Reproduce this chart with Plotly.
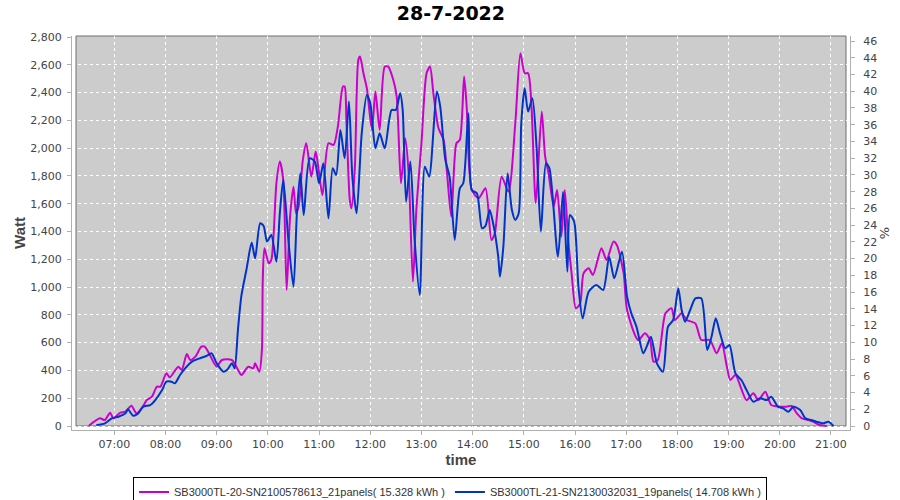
import plotly.graph_objects as go

DATE = "2022-07-28"

# Series 1 (magenta): SB3000TL-20
times_a = ["06:30","06:43","06:49","06:55","06:59","07:07","07:13","07:20","07:26","07:34",
           "07:38","07:44","07:50","07:54","08:01","08:05","08:15","08:19","08:25","08:29",
           "08:35","08:42","08:46","08:52","09:00","09:06","09:18","09:23","09:29","09:37",
           "09:43","09:45","09:50","09:53","09:54","09:56","10:01","10:04","10:10","10:14",
           "10:18","10:22","10:26","10:30","10:33","10:36","10:41","10:45","10:51","10:56",
           "10:59","11:04","11:11","11:17","11:22","11:28","11:30","11:32","11:36","11:38",
           "11:42","11:46","11:48","11:52","11:56","12:02","12:06","12:11","12:17","12:21",
           "12:27","12:31","12:36","12:41","12:45","12:50","12:54","13:00","13:06","13:10",
           "13:14","13:20","13:26","13:30","13:35","13:41","13:45","13:50","13:53","13:59",
           "14:07","14:15","14:22","14:26","14:34","14:42","14:50","14:56","15:01","15:05",
           "15:09","15:14","15:21","15:25","15:29","15:35","15:39","15:44","15:48","15:52",
           "15:56","16:01","16:06","16:10","16:16","16:21","16:31","16:37","16:45","16:49",
           "16:57","17:01","17:14","17:22","17:28","17:32","17:37","17:46","17:53","17:57",
           "18:05","18:11","18:21","18:28","18:38","18:46","18:52","18:58","19:02","19:08",
           "19:21","19:29","19:35","19:43","19:50","20:00","20:08","20:14","20:20","20:26",
           "20:33","20:39","20:47","20:55"]
watt_a = [0,55,43,96,55,96,103,146,91,146,
          187,211,283,283,379,350,427,403,518,475,
          499,571,571,511,427,475,475,427,367,427,
          415,451,391,547,1050,1279,1171,1195,1747,1903,
          1771,979,1507,1723,1531,1579,1915,2035,1795,1975,
          1867,1663,2035,2023,2155,2443,2443,2203,1627,1567,
          1867,2635,2659,2539,2431,2131,2407,2131,2587,2587,
          2491,2371,1747,2071,1819,1039,1555,2035,2539,2587,
          2395,2143,2059,1819,1507,2035,2059,2515,2299,1699,
          1640,1711,1339,1387,1795,1687,2179,2683,2539,2539,
          2299,1603,2263,1939,1819,1579,1699,1363,1699,1339,
          1099,847,883,1099,1135,1087,1279,1195,1327,1303,
          1099,835,619,667,619,463,475,811,847,763,
          811,763,739,619,619,523,595,427,331,367,
          187,235,187,247,151,139,139,144,91,55,
          43,31,7,0]

# Series 2 (blue): SB3000TL-21
times_b = ["06:39","06:49","06:57","07:05","07:13","07:16","07:22","07:28","07:34","07:42",
           "07:48","07:56","08:01","08:07","08:11","08:17","08:23","08:31","08:40","08:48",
           "08:54","09:00","09:08","09:12","09:18","09:21","09:25","09:29","09:35","09:41",
           "09:45","09:51","09:55","09:59","10:04","10:10","10:14","10:18","10:24","10:30",
           "10:34","10:38","10:42","10:49","10:55","11:00","11:05","11:11","11:16","11:20",
           "11:25","11:30","11:35","11:39","11:44","11:50","11:56","12:00","12:06","12:11",
           "12:17","12:25","12:30","12:35","12:38","12:42","12:47","12:52","12:58","13:04",
           "13:09","13:18","13:22","13:28","13:33","13:39","13:45","13:49","13:55","13:59",
           "14:05","14:11","14:15","14:20","14:24","14:30","14:32","14:36","14:41","14:46",
           "14:50","14:54","14:57","15:01","15:05","15:10","15:15","15:20","15:26","15:30",
           "15:40","15:46","15:51","15:54","15:59","16:04","16:09","16:16","16:25","16:33",
           "16:40","16:46","16:55","17:01","17:06","17:12","17:20","17:24","17:29","17:36",
           "17:43","17:49","17:55","18:01","18:05","18:09","18:15","18:21","18:28","18:35",
           "18:40","18:45","18:50","18:56","19:01","19:08","19:15","19:21","19:29","19:37",
           "19:45","19:50","19:58","20:04","20:10","20:16","20:24","20:30","20:37","20:43",
           "20:51","20:57","21:03"]
watt_b = [7,19,55,67,91,120,74,91,139,151,
          187,259,319,319,307,367,415,463,487,504,
          523,451,391,403,451,415,700,940,1130,1320,
          1207,1459,1440,1327,1375,1183,1531,1771,1339,1003,
          1531,1819,1519,1927,1903,1747,1891,1495,1855,1807,
          2131,1927,2335,1795,1531,2107,2383,2323,1999,2107,
          1999,2275,2275,2395,2275,1615,1903,1339,943,1867,
          1795,2407,2299,1915,1795,1339,1711,1747,2251,1699,
          1675,1423,1440,1555,1459,1219,1075,1291,1819,1555,
          1483,1531,2179,2431,2263,2359,1999,1399,1891,1855,
          1219,1687,1111,1519,1471,1003,775,967,1015,979,
          1219,1063,1255,931,811,715,523,571,643,451,
          391,715,763,991,835,751,835,919,919,547,
          643,775,667,559,583,379,331,259,175,199,
          187,211,139,127,103,139,115,55,43,31,
          19,31,0]

name_a = "SB3000TL-20-SN2100578613_21panels( 15.328 kWh )"
name_b = "SB3000TL-21-SN2130032031_19panels( 14.708 kWh )"

title_text = "28-7-2022"
left_ticks = list(range(0, 2801, 200))
right_ticks = list(range(0, 47, 2))

xa = [f"{DATE} {t}" for t in times_a]
xb = [f"{DATE} {t}" for t in times_b]

fig = go.Figure()
fig.add_trace(go.Scatter(x=xa, y=watt_a, name=name_a, mode="lines",
                         line=dict(color="#CC00CC", width=2, shape="spline", smoothing=0.7)))
fig.add_trace(go.Scatter(x=xb, y=watt_b, name=name_b, mode="lines",
                         line=dict(color="#0033CC", width=2, shape="spline", smoothing=0.7)))
# dummy trace to show the right (%) axis
fig.add_trace(go.Scatter(x=[xa[0]], y=[0], yaxis="y2", mode="lines",
                         line=dict(width=0), showlegend=False, hoverinfo="skip"))

W_PLOT = 778.0
H_PLOT = 394.0
gx = 4 / W_PLOT
gy = 4 / H_PLOT

fig.update_layout(
    width=900, height=500,
    margin=dict(l=72, r=50, t=36, b=70, autoexpand=False),
    paper_bgcolor="white",
    plot_bgcolor="white",
    font=dict(family="DejaVu Sans", size=11, color="#444444"),
    title=dict(text="<b>" + title_text + "</b>", x=0.501, xref="container", xanchor="center",
               y=0.974, yref="container", yanchor="middle",
               font=dict(family="DejaVu Sans", size=19, color="black")),
    xaxis=dict(
        type="date", automargin=False,
        range=[f"{DATE} 06:10:24", f"{DATE} 21:22:19"],
        dtick=3600000, tick0=f"{DATE} 07:00", tickformat="%H:%M",
        showgrid=True, gridcolor="white", griddash="dot", gridwidth=1,
        zeroline=False,
        showline=True, linecolor="#B0B0B0", linewidth=1,
        ticks="outside", ticklen=4, tickcolor="#B0B0B0",
        tickfont=dict(family="DejaVu Sans", size=11, color="#444444"),
        title=dict(text="<b>time</b>", standoff=4,
                   font=dict(family="Liberation Sans", size=15, color="#444444")),
    ),
    yaxis=dict(
        automargin=False,
        range=[-28.8, 2807.2],
        tickvals=left_ticks, tickformat=",d",
        showgrid=True, gridcolor="white", griddash="dot", gridwidth=1,
        zeroline=False,
        showline=True, linecolor="#B0B0B0", linewidth=1,
        ticks="outside", ticklen=4, tickcolor="#B0B0B0",
        ticklabelstandoff=3,
        tickfont=dict(family="DejaVu Sans", size=11, color="#444444"),
        title=dict(text="<b>Watt</b>", standoff=1,
                   font=dict(family="Liberation Sans", size=15, color="#444444")),
    ),
    yaxis2=dict(
        automargin=False,
        overlaying="y", side="right",
        range=[-0.478, 46.6],
        tickvals=right_ticks,
        showgrid=False, zeroline=False,
        showline=True, linecolor="#B0B0B0", linewidth=1,
        ticks="outside", ticklen=4, tickcolor="#B0B0B0",
        ticklabelstandoff=6,
        tickfont=dict(family="DejaVu Sans", size=11, color="#444444"),
        title=dict(text="%", standoff=1,
                   font=dict(family="DejaVu Sans", size=13, color="#444444")),
    ),
    legend=dict(
        orientation="h", xref="container", yref="container",
        x=0.5, xanchor="center", y=0.047, yanchor="top",
        bordercolor="black", borderwidth=1, bgcolor="white",
        font=dict(family="Liberation Sans", size=11, color="#333333"),
        itemwidth=30, tracegroupgap=0,
    ),
    showlegend=True,
    shapes=[
        dict(type="rect", xref="paper", yref="paper",
             x0=gx, x1=1 - gx, y0=gy, y1=1.0,
             fillcolor="#CCCCCC", line=dict(color="#6E6E6E", width=1), layer="below"),
    ],
)

fig.write_html("out.html", config={"displayModeBar": False},
               post_script="document.body.style.margin='0';")
